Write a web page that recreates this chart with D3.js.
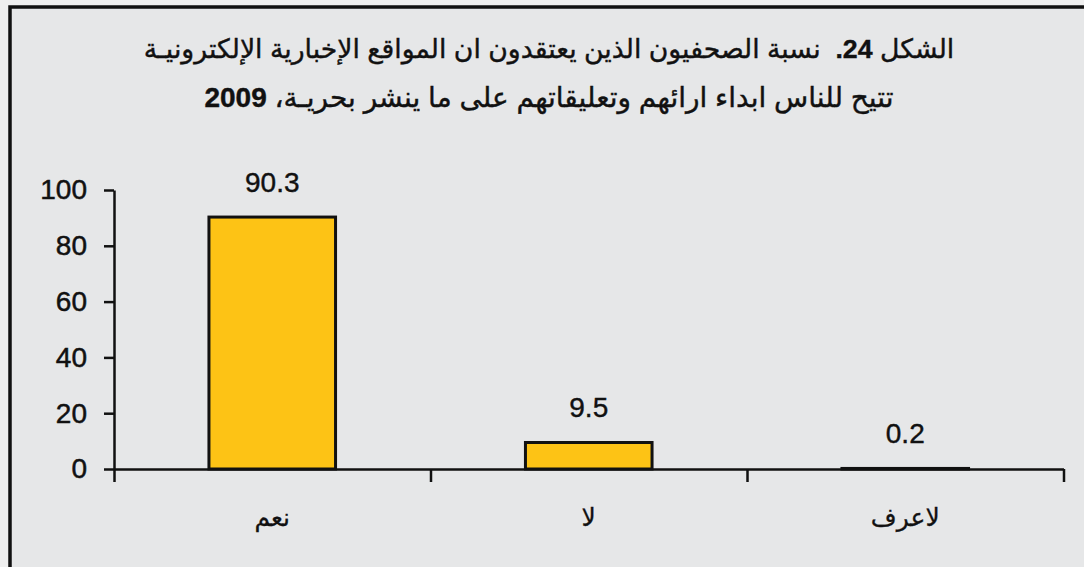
<!DOCTYPE html>
<html>
<head>
<meta charset="utf-8">
<script src="https://cdn.jsdelivr.net/npm/d3@7"></script>
<style>
  body { margin: 0; background: #efefef; }
  svg { display: block; font-family: "Liberation Sans", "DejaVu Sans", Arial, sans-serif; }
  .axis text { font-size: 28px; fill: #111; stroke: #111; stroke-width: 0.5; }
  .axis path, .axis line { stroke: #111; stroke-width: 2.5; }
</style>
</head>
<body>
<svg width="1084" height="567"></svg>
<script>
// data
var categories = ["نعم", "لا", "لاعرف"];
var values = [90.3, 9.5, 0.2];
var yTicks = [0, 20, 40, 60, 80, 100];
// title lines, [text, bold?] pieces in logical order
var titleLine1 = [["الشكل ", false], ["24.", true], ["  نسبة الصحفيون الذين يعتقدون ان المواقع الإخبارية الإلكترونيـة", false]];
var titleLine2 = [["تتيح للناس ابداء ارائهم وتعليقاتهم على ما ينشر بحريـة، ", false], ["2009", true]];

var svg = d3.select("svg"),
  width = +svg.attr("width"),
  height = +svg.attr("height");

var margin = {top: 190, right: 20, bottom: 98, left: 114};

// frame
svg.append("rect")
  .attr("x", 10).attr("y", 7)
  .attr("width", width + 20).attr("height", height + 20)
  .attr("fill", "#e6e7e8")
  .attr("stroke", "#111")
  .attr("stroke-width", 3.5);

// scales
var x = d3.scaleBand()
  .domain(categories)
  .range([margin.left, 1063.5])
  .paddingInner(0.6)
  .paddingOuter(0.3);

var y = d3.scaleLinear()
  .domain([0, 100])
  .range([height - margin.bottom, margin.top]);

// boundary scale for the category separators
var xb = d3.scaleLinear()
  .domain([0, categories.length])
  .range(x.range());

// title
function titleLine(pieces, yPos, size) {
  var t = svg.append("text")
    .attr("x", 549)
    .attr("y", yPos)
    .attr("direction", "rtl")
    .attr("text-anchor", "middle")
    .attr("font-size", size)
    .attr("fill", "#111")
    .attr("stroke", "#111")
    .attr("stroke-width", 0.4)
    .style("white-space", "pre");
  pieces.forEach(function(p) {
    t.append("tspan")
      .attr("font-weight", p[1] ? "bold" : "normal")
      .text(p[0]);
  });
}
titleLine(titleLine1, 58, 26.7);
titleLine(titleLine2, 107, 28);

// bars
svg.append("g")
  .selectAll("rect")
  .data(values)
  .enter().append("rect")
    .attr("x", function(d, i) { return x(categories[i]); })
    .attr("y", function(d) { return y(d); })
    .attr("width", x.bandwidth())
    .attr("height", function(d) { return y(0) - y(d); })
    .attr("fill", "#fdc315")
    .attr("stroke", "#111")
    .attr("stroke-width", 3);

// value labels
svg.append("g")
  .selectAll("text")
  .data(values)
  .enter().append("text")
    .attr("x", function(d, i) { return x(categories[i]) + x.bandwidth() / 2; })
    .attr("y", function(d) { return y(d) - 25; })
    .attr("text-anchor", "middle")
    .attr("font-size", 28)
    .attr("fill", "#111")
    .attr("stroke", "#111")
    .attr("stroke-width", 0.4)
    .text(function(d) { return d; });

// x axis with separators
svg.append("g")
  .attr("class", "axis")
  .attr("transform", "translate(0," + y(0) + ")")
  .call(d3.axisBottom(xb)
    .tickValues(d3.range(categories.length + 1))
    .tickSize(13)
    .tickSizeOuter(0)
    .tickFormat(""));

// y axis
svg.append("g")
  .attr("class", "axis")
  .attr("transform", "translate(" + margin.left + ",0)")
  .call(d3.axisLeft(y)
    .tickValues(yTicks)
    .tickSize(10)
    .tickSizeOuter(0)
    .tickPadding(17));

// category labels
svg.append("g")
  .selectAll("text")
  .data(categories)
  .enter().append("text")
    .attr("x", function(d) { return x(d) + x.bandwidth() / 2; })
    .attr("y", 526)
    .attr("direction", "rtl")
    .attr("text-anchor", "middle")
    .attr("font-size", 25)
    .attr("fill", "#111")
    .attr("stroke", "#111")
    .attr("stroke-width", 0.3)
    .text(function(d) { return d; });
</script>
</body>
</html>
